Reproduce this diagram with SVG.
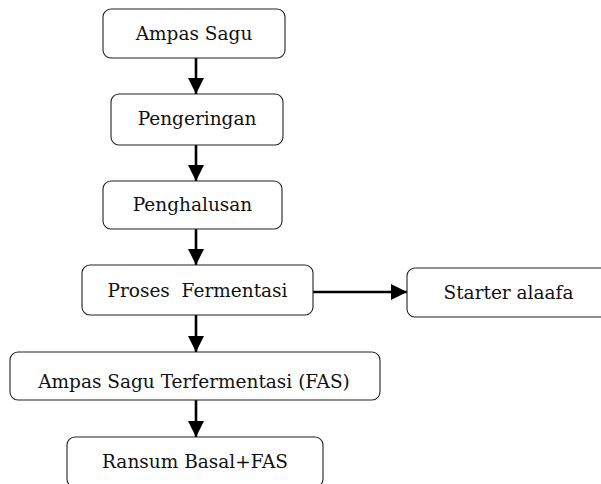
<svg xmlns="http://www.w3.org/2000/svg" width="601" height="484" viewBox="0 0 601 484">
<style>
.box{fill:#fff;stroke:#222;stroke-width:1.1}
.lbl{font-family:"DejaVu Serif","Liberation Serif",serif;font-size:18.5px;fill:#111;text-anchor:middle}
.edge{stroke:#000;stroke-width:2.6;fill:none}
</style>
<defs>
<marker id="ah" viewBox="0 0 10 10" refX="10" refY="5" markerWidth="6.2" markerHeight="6.2" orient="auto" markerUnits="strokeWidth">
<path d="M0,0 L10,5 L0,10 z" fill="#000"/>
</marker>
</defs>
<rect width="601" height="484" fill="#fff"/>
<g id="connectors">
<line class="edge" x1="196" y1="58" x2="196" y2="94" marker-end="url(#ah)"/>
<line class="edge" x1="196" y1="145" x2="196" y2="181" marker-end="url(#ah)"/>
<line class="edge" x1="196" y1="229" x2="196" y2="265" marker-end="url(#ah)"/>
<line class="edge" x1="196" y1="315" x2="196" y2="352" marker-end="url(#ah)"/>
<line class="edge" x1="196" y1="400" x2="196" y2="437" marker-end="url(#ah)"/>
<line class="edge" x1="313" y1="292" x2="407" y2="292" marker-end="url(#ah)"/>
</g>
<g id="n1"><rect class="box" x="103" y="9" width="182" height="49" rx="8"/><text class="lbl" x="194" y="40">Ampas Sagu</text></g>
<g id="n2"><rect class="box" x="111" y="94" width="172" height="51" rx="8"/><text class="lbl" x="197" y="125">Pengeringan</text></g>
<g id="n3"><rect class="box" x="103" y="181" width="179" height="48" rx="8"/><text class="lbl" x="192.5" y="211">Penghalusan</text></g>
<g id="n4"><rect class="box" x="82" y="265" width="231" height="50" rx="8"/><text class="lbl" x="197.5" y="297" xml:space="preserve">Proses  Fermentasi</text></g>
<g id="n5"><rect class="box" x="407" y="268" width="204" height="49" rx="8"/><text class="lbl" x="508.5" y="299">Starter alaafa</text></g>
<g id="n6"><rect class="box" x="10" y="352" width="370" height="48" rx="8"/><text class="lbl" x="194" y="388">Ampas Sagu Terfermentasi (FAS)</text></g>
<g id="n7"><rect class="box" x="67" y="437" width="256" height="50" rx="8"/><text class="lbl" x="195" y="468">Ransum Basal+FAS</text></g>
</svg>
